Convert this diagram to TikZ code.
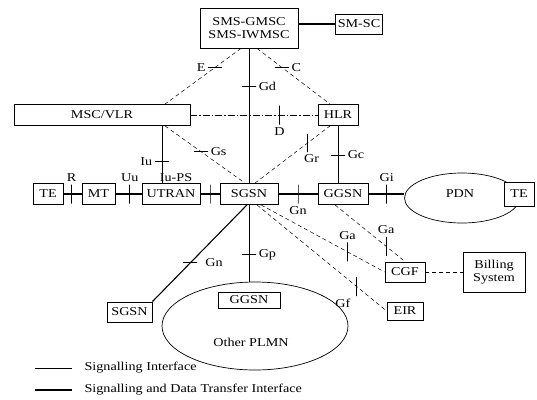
\documentclass[tikz,border=0pt]{standalone}
\usepackage{fontspec}
\setmainfont{Liberation Serif}[FakeStretch=1.18]
\usetikzlibrary{positioning,shapes.geometric}

\begin{document}
\begin{tikzpicture}[x=1pt, y=-1pt,
  font=\fontsize{12}{13.5}\selectfont,
  box/.style={draw, line width=0.8pt, fill=white, align=center, inner sep=0pt, minimum height=21pt},
  cloud/.style={draw, ellipse, line width=0.7pt, inner sep=0pt},
  data/.style={line width=1.1pt},
  sig/.style={line width=0.5pt},
  sigdash/.style={line width=0.5pt, dash pattern=on 4pt off 3pt},
  dashdot/.style={line width=0.5pt, dash pattern=on 7pt off 2pt on 1.5pt off 2pt},
  vbar/.style={draw, solid, line width=1pt, inner sep=0pt, minimum width=0pt, minimum height=19pt},
  hbar/.style={draw, solid, line width=1pt, inner sep=0pt, minimum height=0pt, minimum width=14pt},
  every label/.append style={inner sep=1pt, label distance=1pt},
]
\path[use as bounding box] (0,0) rectangle (537,399);

% networks
\node[cloud, minimum width=115pt, minimum height=50pt] (pdn) at (462,198) {};
\node (pdnlbl) at (460,194) {PDN};
\node[cloud, minimum width=186pt, minimum height=88pt] (plmn) at (255,326) {};
\node (plmnlbl) at (251,342) {Other PLMN};

% network elements
\node[box, minimum width=98pt, minimum height=40pt] (smsgmsc) at (249,28) {SMS-GMSC\\SMS-IWMSC};
\node[box, minimum width=47pt, minimum height=20pt] (smsc) at (359,24) {SM-SC};
\node[box, minimum width=176pt] (msc) at (102,115) {MSC/VLR};
\node[box, minimum width=40pt] (hlr) at (338,115) {HLR};
\node[box, minimum width=30pt] (te) at (48,194) {TE};
\node[box, minimum width=33pt] (mt) at (98.5,194) {MT};
\node[box, minimum width=58pt] (utran) at (171,194) {UTRAN};
\node[box, minimum width=58pt] (sgsn) at (249,194) {SGSN};
\node[box, minimum width=50pt] (ggsn) at (343,194) {GGSN};
\node[box, minimum width=30pt, minimum height=24pt] (tepdn) at (519,194) {TE};
\node[box, minimum width=40pt, minimum height=20pt] (cgf) at (405,272) {CGF};
\node[box, minimum width=62pt, minimum height=40pt] (billing) at (494,272) {Billing\\System};
\node[box, minimum width=36pt, minimum height=18pt] (eir) at (405,311) {EIR};
\node[box, minimum width=62pt, minimum height=16pt] (ggsnb) at (249,300) {GGSN};
\node[box, minimum width=45pt, minimum height=20pt] (sgsnb) at (129.5,312) {SGSN};

% SMS side
\draw[data] (smsgmsc.east |- smsc) -- (smsc.west);
\draw[sig] (smsgmsc.south) -- node[hbar, pos=.28, label=right:Gd] (igd) {} (sgsn.north);
\draw[sigdash] ([xshift=-8pt]smsgmsc.south) -- node[hbar, pos=.34, label=left:E] (ie) {} ([xshift=63pt]msc.north);
\draw[sigdash] ([xshift=8pt]smsgmsc.south) -- node[hbar, pos=.34, label=right:C] (ic) {} ([xshift=-8pt]hlr.north);
\draw[dashdot] (msc.east) -- node[vbar, pos=.7, label=below:D] (id) {} (hlr.west);

% core signalling
\draw[sig] ([xshift=60pt]msc.south) -- node[hbar, pos=.63, label=left:Iu] (iiu) {} ([xshift=60pt]msc.south |- utran.north);
\draw[sigdash] ([xshift=63pt]msc.south) -- node[hbar, pos=.45, label=right:Gs] (igs) {} ([xshift=-4pt]sgsn.north);
\draw[sigdash] ([xshift=6pt]sgsn.north) -- node[vbar, minimum height=18pt, pos=.7, label={[xshift=4pt]below:Gr}] (igr) {} ([xshift=-8pt]hlr.south);
\draw[sig] (hlr.south) -- node[hbar, pos=.51, label=right:Gc] (igc) {} (hlr.south |- ggsn.north);

% user plane row
\draw[data] (te) -- node[vbar, pos=.45, label=above:R] (ir) {} (mt);
\draw[data] (mt) -- node[vbar, pos=.55, label=above:Uu] (iuu) {} (utran);
\draw[data] (utran) -- node[vbar, pos=.5, label={[xshift=-34pt]above:Iu-PS}] (iups) {} (sgsn);
\draw[data] (sgsn) -- node[vbar, pos=.5, label=below:Gn] (ign) {} (ggsn);
\draw[data] (ggsn.east) -- node[vbar, pos=.51, label=above:Gi] (igi) {} (ggsn.east -| pdn.west);

% towards other PLMN, charging, EIR
\draw[data] ([xshift=-2pt]sgsn.south) -- node[hbar, pos=.6, label={[label distance=6pt]right:Gn}] (igns) {} (sgsnb.north east);
\draw[sig] (sgsn.south) -- node[hbar, pos=.65, label=right:Gp] (igp) {} (sgsn.south |- plmn.north);
\draw[sigdash] ([xshift=12pt]sgsn.south) -- node[vbar, pos=.7, label=above:Ga] (igas) {} (cgf.west);
\draw[sigdash] ([xshift=8pt]sgsn.south) -- node[vbar, pos=.77, label={[xshift=-14pt]below:Gf}] (igf) {} (eir.west);
\draw[sigdash] ([xshift=-8pt]ggsn.south) -- node[vbar, pos=.73, label=above:Ga] (igag) {} (cgf.north);
\draw[sigdash] (cgf) -- (billing);

% legend
\coordinate (lega) at (35,368);
\coordinate (legb) at (72,368);
\coordinate (legc) at (35,390);
\coordinate (legd) at (72,390);
\draw[sig] (lega) -- (legb);
\draw[data] (legc) -- (legd);
\node[right=9pt of legb] (legsig) {Signalling Interface};
\node[right=9pt of legd] (legdata) {Signalling and Data Transfer Interface};
\end{tikzpicture}
\end{document}
